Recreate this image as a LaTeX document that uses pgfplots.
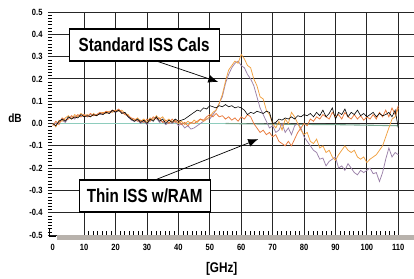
\documentclass[border=0pt]{standalone}
\usepackage{fontspec}
\setmainfont{Liberation Sans}
\usepackage{graphicx}
\usepackage{pgfplots}
\usepackage{pgfplotstable}
\pgfplotsset{compat=1.18}
\usetikzlibrary{arrows.meta}
\newcommand{\T}[1]{\scalebox{0.84}[1]{\bfseries #1}}
\newcommand{\TB}[1]{\scalebox{0.8}[1]{\bfseries #1}}
\definecolor{cpur}{HTML}{9A80A8}
\definecolor{clor}{HTML}{F0A040}
\definecolor{cdor}{HTML}{E8783A}
\definecolor{cteal}{HTML}{8ECDBD}
\definecolor{cteal2}{HTML}{7AA890}
\definecolor{cband}{HTML}{B8B2AC}
\pgfplotstableread{
x blk dor lor pur
0 0.00 -0.01 0.00 -0.005
1 -0.01 0.01 -0.015 0.0
2 0.01 -0.005 0.015 0.005
3 0.02 0.025 0.01 0.015
4 0.01 0.015 0.025 0.005
5 0.03 0.02 0.035 0.025
6 0.02 0.035 0.02 0.03
7 0.03 0.025 0.04 0.02
8 0.025 0.04 0.03 0.035
9 0.04 0.03 0.045 0.03
10 0.03 0.04 0.035 0.04
11 0.035 0.03 0.04 0.03
12 0.03 0.045 0.03 0.04
13 0.04 0.035 0.045 0.035
14 0.035 0.04 0.035 0.04
15 0.045 0.05 0.045 0.04
16 0.04 0.045 0.05 0.045
17 0.05 0.055 0.045 0.05
18 0.045 0.05 0.055 0.045
19 0.06 0.06 0.05 0.055
20 0.05 0.055 0.06 0.05
21 0.06 0.065 0.055 0.06
22 0.045 0.05 0.06 0.05
23 0.05 0.04 0.045 0.045
24 0.03 0.035 0.04 0.03
25 0.02 0.025 0.02 0.015
26 0.01 0.02 0.015 0.01
27 0.02 0.01 0.025 0.015
28 0.005 0.015 0.01 0.0
29 0.015 0.005 0.02 0.01
30 0.0 0.02 0.005 -0.005
31 0.02 0.01 0.025 0.015
32 0.01 0.03 0.015 0.02
33 0.03 0.02 0.035 0.025
34 0.01 0.025 0.02 0.005
35 0.02 0.005 0.03 0.01
36 0.0 0.015 0.01 -0.005
37 0.015 0.0 0.02 0.005
38 0.005 0.02 0.005 0.0
39 0.02 0.005 0.015 0.01
40 0.01 0.015 0.0 -0.01
41 0.015 -0.005 0.01 0.0
42 0.02 0.005 -0.005 -0.02
43 0.03 -0.01 0.01 -0.01
44 0.04 0.005 0.0 -0.025
45 0.05 0.0 0.015 -0.02
46 0.06 0.01 0.005 -0.01
47 0.055 0.02 0.02 0.0
48 0.07 0.015 0.01 0.01
49 0.065 0.03 0.02 0.02
50 0.08 0.04 0.03 0.02
51 0.075 0.03 0.05 0.04
52 0.07 0.045 0.06 0.06
53 0.08 0.03 0.09 0.09
54 0.075 0.035 0.13 0.12
55 0.085 0.02 0.19 0.18
56 0.075 0.03 0.24 0.22
57 0.08 0.015 0.26 0.25
58 0.07 0.025 0.28 0.27
59 0.075 0.01 0.27 0.28
60 0.07 0.03 0.31 0.26
61 0.06 0.02 0.29 0.25
62 0.04 0.04 0.26 0.22
63 0.05 0.03 0.25 0.2
64 0.045 0.0 0.2 0.17
65 0.055 -0.02 0.17 0.12
66 0.05 -0.04 0.12 0.07
67 0.045 -0.03 0.11 0.04
68 0.055 -0.05 0.06 0.01
69 0.05 -0.04 0.04 -0.02
70 0.0 -0.06 0.0 -0.01
71 0.005 -0.05 -0.02 -0.04
72 0.02 -0.08 0.01 -0.03
73 0.015 -0.09 -0.03 0.0
74 0.025 -0.1 0.02 -0.04
75 0.02 -0.08 0.0 -0.02
76 0.03 -0.1 0.05 -0.05
77 0.02 -0.07 0.03 -0.01
78 0.035 -0.04 0.0 0.0
79 0.03 -0.02 -0.03 -0.02
80 0.04 0.0 -0.05 -0.06
81 0.035 -0.01 -0.04 -0.08
82 0.045 0.02 -0.08 -0.1
83 0.03 0.01 -0.09 -0.12
84 0.05 0.03 -0.07 -0.13
85 0.035 0.02 -0.11 -0.16
86 0.06 0.04 -0.1 -0.155
87 0.03 0.03 -0.13 -0.19
88 0.045 0.02 -0.12 -0.17
89 0.07 0.05 -0.15 -0.16
90 0.02 0.03 -0.165 -0.15
91 0.05 0.04 -0.14 -0.2
92 0.04 0.02 -0.12 -0.19
93 0.065 0.05 -0.1 -0.21
94 0.03 0.03 -0.12 -0.18
95 0.05 0.02 -0.13 -0.2
96 0.04 0.04 -0.12 -0.22
97 0.06 0.02 -0.15 -0.23
98 0.035 0.035 -0.16 -0.21
99 0.045 0.015 -0.15 -0.22
100 0.03 0.03 -0.175 -0.21
101 0.04 0.02 -0.16 -0.2
102 0.05 0.04 -0.15 -0.225
103 0.03 0.02 -0.14 -0.22
104 0.045 0.05 -0.12 -0.26
105 0.035 0.03 -0.1 -0.22
106 0.04 0.06 -0.06 -0.16
107 0.05 0.03 -0.02 -0.11
108 0.03 0.07 0.02 -0.15
109 0.06 0.04 0.03 -0.13
110 -0.02 0.08 0.07 -0.14
}\data
\begin{document}
\begin{tikzpicture}
\begin{axis}[
  scale only axis,
  width=366pt, height=223pt,
  xmin=-1.5, xmax=115, ymin=-0.5, ymax=0.5,
  axis line style={draw=none},
  xtick={10,20,30,40,50,60,70,80,90,100,110},
  xticklabels={\T{10},\T{20},\T{30},\T{40},\T{50},\T{60},\T{70},\T{80},\T{90},\T{100},\T{110}},
  extra x ticks={0},
  extra x tick labels={\T{0}},
  extra x tick style={grid=none},
  ytick={-0.5,-0.4,-0.3,-0.2,-0.1,0,0.1,0.2,0.3,0.4,0.5},
  yticklabels={\T{-0.5},\T{-0.4},\T{-0.3},\T{-0.2},\T{-0.1},\T{0.0},\T{0.1},\T{0.2},\T{0.3},\T{0.4},\T{0.5}},
  xticklabel style={font=\fontsize{9}{10}\selectfont, yshift=-6pt},
  yticklabel style={font=\fontsize{9}{10}\selectfont, xshift=-2pt},
  xtick pos=bottom, ytick pos=left,
  tick align=inside,
  major tick length=0pt,
  minor tick length=4pt,
  minor x tick num=6,
  minor y tick num=6,
  minor tick style={black, line width=0.5pt},
  grid=major,
  major grid style={black!85, line width=0.9pt},
  clip=false,
]
\addplot[cteal, line width=1.1pt] coordinates {(0,0) (55,0.0)};
\addplot[cteal2, line width=1.1pt] coordinates {(55,0.0) (70,-0.003) (90,-0.005) (110,-0.01)};
\addplot[cpur, line width=0.75pt] table[x=x, y=pur] {\data};
\addplot[clor, line width=0.75pt] table[x=x, y=lor] {\data};
\addplot[cdor, line width=0.75pt] table[x=x, y=dor] {\data};
\addplot[black, line width=0.6pt] table[x=x, y=blk] {\data};
% bottom band and corner
\draw[cband, line width=5pt] ([yshift=-2.5pt]axis cs:1.5,-0.5) -- ([yshift=-2.5pt]axis cs:115,-0.5);
\draw[black, line width=0.8pt] ([yshift=6pt]axis cs:-1.2,-0.5) -- ([yshift=-1pt]axis cs:-1.2,-0.5) -- ([yshift=-1pt]axis cs:1,-0.5);
% annotations
\draw[line width=0.7pt, -{Latex[length=10pt,width=8pt]}] (axis cs:32.0,0.285) -- (axis cs:52.7,0.186);
\draw[line width=0.7pt, -{Latex[length=10pt,width=8pt]}] (axis cs:32.6,-0.253) -- (axis cs:65.4,-0.07);
\node[draw=black, line width=1.1pt, fill=white, minimum width=150pt, minimum height=32pt, inner sep=0pt,
  font=\fontsize{19}{21}\selectfont] at (axis cs:29.1,0.352) {\TB{Standard ISS Cals}};
\node[draw=black, line width=1.1pt, fill=white, minimum width=131pt, minimum height=32pt, inner sep=0pt,
  font=\fontsize{19}{21}\selectfont] at (axis cs:29.3,-0.325) {\TB{Thin ISS w/RAM}};
\node[font=\fontsize{12}{14}\selectfont] at ([xshift=-33pt,yshift=5pt]axis cs:-1.5,0) {\T{dB}};
\node[font=\fontsize{14}{16}\selectfont] at ([yshift=-33.5pt]axis cs:53.8,-0.5) {\T{[GHz]}};
\end{axis}
\pgfresetboundingbox
\path ([xshift=-48pt,yshift=-43pt]current axis.south west) rectangle ([yshift=12pt]current axis.north east);
\end{tikzpicture}
\end{document}
